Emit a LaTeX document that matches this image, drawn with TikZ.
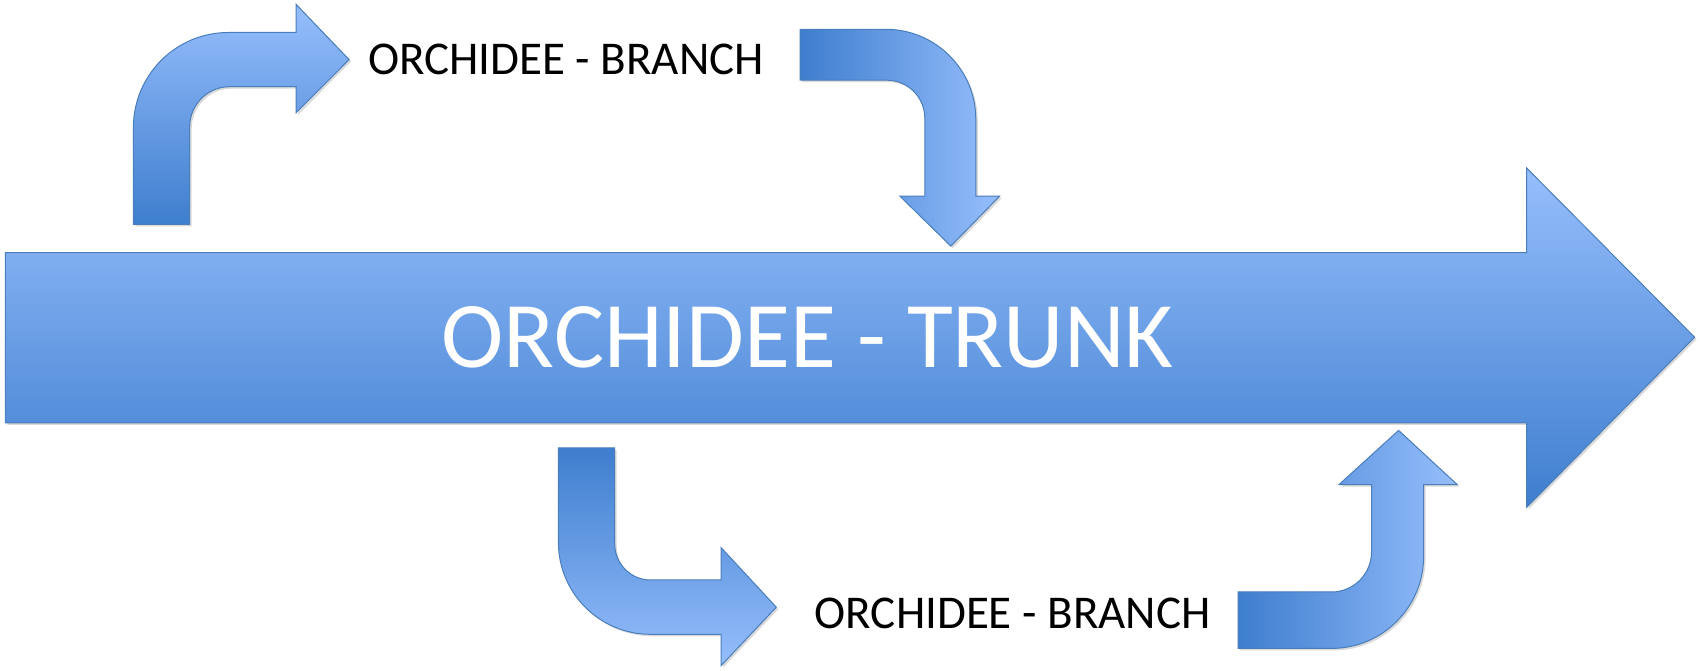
\documentclass[tikz,border=0pt]{standalone}
\usepackage{fontspec}
\setmainfont{Carlito}
\usepackage{tikz}
\usetikzlibrary{shadows}

\definecolor{arrowlight}{RGB}{150,190,252}
\definecolor{arrowdark}{RGB}{62,126,206}
\definecolor{arrowline}{RGB}{74,126,187}

\begin{document}
\begin{tikzpicture}[x=1pt,y=1pt,
    arrowshape/.style={draw=arrowline, line width=1pt, line join=miter,
      drop shadow={opacity=0.3, shadow xshift=2pt, shadow yshift=-2pt}},
    branchlabel/.style={font=\fontsize{47}{47}\selectfont, text=black},
    trunklabel/.style={font=\fontsize{94}{94}\selectfont, text=white}]
    \useasboundingbox (0,0) rectangle (1700,671);
    % trunk
    \path[arrowshape, top color=arrowlight, bottom color=arrowdark]
      (5.4,248.2) -- (5.4,418.4) -- (1526.6,418.4) -- (1526.6,503)
      -- (1694.6,333.8) -- (1526.6,163.6) -- (1526.6,248.2) -- cycle;
    % upper branch, going out
    \path[arrowshape, top color=arrowlight, bottom color=arrowdark]
      (133.4,446.6) -- (133.4,543.5) arc[start angle=180, end angle=90, radius=95]
      -- (296,638.5) -- (296,666.7) -- (349.1,611.4) -- (296,558.2) -- (296,584.3)
      -- (229.7,584.3) arc[start angle=90, end angle=180, radius=40]
      -- (189.7,446.6) -- cycle;
    % upper branch, coming back
    \path[arrowshape, left color=arrowdark, right color=arrowlight]
      (800.1,641.7) -- (885.8,641.7) arc[start angle=90, end angle=0, radius=90]
      -- (975.8,474.8) -- (999.6,474.8) -- (950.8,424.9) -- (899.9,474.8) -- (924.8,474.8)
      -- (924.8,552.8) arc[start angle=0, end angle=90, radius=38]
      -- (800.1,590.8) -- cycle;
    % lower branch, going out
    \path[arrowshape, top color=arrowdark, bottom color=arrowlight]
      (558.4,223.2) -- (558.4,128.7) arc[start angle=180, end angle=270, radius=92]
      -- (721,36.7) -- (721,5.3) -- (776.3,63.8) -- (721,123.5) -- (721,91)
      -- (650.7,91) arc[start angle=270, end angle=180, radius=36]
      -- (614.7,223.2) -- cycle;
    % lower branch, coming back
    \path[arrowshape, left color=arrowdark, right color=arrowlight]
      (1238.2,22.6) -- (1331.6,22.6) arc[start angle=270, end angle=360, radius=92]
      -- (1423.6,186.4) -- (1457.2,186.4) -- (1398.6,240.6) -- (1339,186.4) -- (1371.5,186.4)
      -- (1371.5,119) arc[start angle=0, end angle=-90, radius=40]
      -- (1238.2,79) -- cycle;

    \node[trunklabel] (trunk) at (807.7,333.8) {ORCHIDEE - TRUNK};
    \node[branchlabel] (branchtop) at (566,611.4) {ORCHIDEE - BRANCH};
    \node[branchlabel] (branchbottom) at (1012.6,57.3) {ORCHIDEE - BRANCH};
\end{tikzpicture}
\end{document}
